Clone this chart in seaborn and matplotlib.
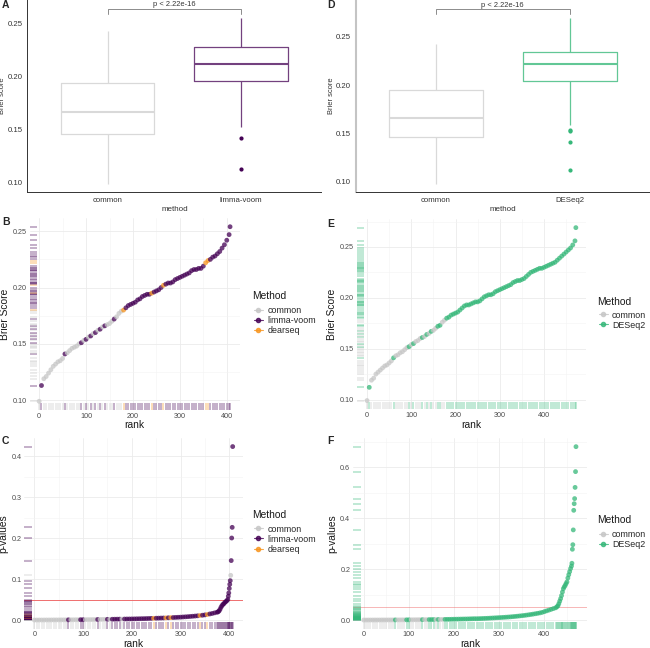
import pandas as pd
import matplotlib
matplotlib.use("Agg")
import matplotlib.pyplot as plt
from matplotlib.lines import Line2D
from matplotlib.ticker import MultipleLocator, FormatStrFormatter
import seaborn as sns

##### DATEN #####
#################

# Boxplots A / D (Brier score je Methode, Werte so gewaehlt, dass Box-Statistik passt)
box_common_a = [0.0984, 0.118, 0.132, 0.145, 0.152, 0.160, 0.1664, 0.172, 0.183, 0.1937, 0.205, 0.222, 0.2425]
box_limma_a = [0.1126, 0.1415, 0.1522, 0.1953, 0.200, 0.206, 0.2116, 0.215, 0.221, 0.2277, 0.234, 0.243, 0.2544]
box_common_d = [0.0983, 0.118, 0.132, 0.1461, 0.153, 0.160, 0.1664, 0.173, 0.184, 0.1946, 0.206, 0.222, 0.2421]
box_deseq_d = [0.1124, 0.1411, 0.1522, 0.1540, 0.1585, 0.2039, 0.207, 0.211, 0.215, 0.219, 0.2221,
               0.225, 0.228, 0.230, 0.232, 0.2345, 0.238, 0.243, 0.249, 0.257, 0.2696]

# Panel B: Brier Score nach Rang (limma-voom)
rank_b = list(range(0, 406, 5)) + [407]
brier_b = [0.099, 0.113, 0.119, 0.121, 0.124, 0.127, 0.130, 0.132, 0.134, 0.135,
           0.137, 0.141, 0.142, 0.144, 0.146, 0.147, 0.148, 0.150, 0.151, 0.153,
           0.154, 0.156, 0.157, 0.159, 0.160, 0.162, 0.163, 0.165, 0.166, 0.167,
           0.168, 0.170, 0.172, 0.174, 0.177, 0.179, 0.180, 0.182, 0.184, 0.185,
           0.186, 0.187, 0.189, 0.190, 0.192, 0.193, 0.194, 0.194, 0.195, 0.196,
           0.197, 0.198, 0.200, 0.202, 0.203, 0.204, 0.204, 0.205, 0.207, 0.208,
           0.209, 0.210, 0.211, 0.212, 0.213, 0.215, 0.216, 0.216, 0.217, 0.217,
           0.219, 0.222, 0.224, 0.225, 0.227, 0.228, 0.230, 0.232, 0.235, 0.238,
           0.242, 0.247, 0.254]
# c = common, l = limma-voom, d = dearseq
method_b = ("cl" "ccccccccc" "l" "cccccc" "lclclclclcl" "ccc" "l" "ccc" "d"
            "lllllllllll" "d" "llll" "d" "lllllllllllllllll" "dd" "llllllllll")

# Panel C: p-Werte nach Rang (limma-voom)
rank_c = list(range(0, 376, 5)) + list(range(377, 396, 2)) + list(range(397, 408))
pval_c = [0.0000, 0.0000, 0.0001, 0.0001, 0.0001, 0.0002, 0.0002, 0.0002, 0.0003, 0.0003,
          0.0003, 0.0004, 0.0004, 0.0005, 0.0005, 0.0006, 0.0006, 0.0007, 0.0007, 0.0008,
          0.0008, 0.0009, 0.0010, 0.0010, 0.0011, 0.0012, 0.0013, 0.0014, 0.0015, 0.0016,
          0.0017, 0.0018, 0.0019, 0.0020, 0.0021, 0.0022, 0.0023, 0.0024, 0.0025, 0.0026,
          0.0027, 0.0028, 0.0030, 0.0031, 0.0033, 0.0034, 0.0036, 0.0038, 0.0040, 0.0042,
          0.0044, 0.0046, 0.0048, 0.0050, 0.0052, 0.0055, 0.0058, 0.0061, 0.0064, 0.0067,
          0.0070, 0.0074, 0.0078, 0.0082, 0.0087, 0.0092, 0.0097, 0.0103, 0.0110, 0.0117,
          0.0125, 0.0135, 0.0148, 0.0160, 0.0175, 0.0190,
          0.020, 0.022, 0.026, 0.031, 0.035, 0.038, 0.040, 0.043, 0.045, 0.047,
          0.050, 0.058, 0.066, 0.077, 0.087, 0.096, 0.109, 0.145, 0.200, 0.226, 0.423]
method_c = ("cccccccccccccc" "l" "cccc" "ll" "ccccc" "l" "ccc" "l" "c" "llll" "c"
            "llllllllllll" "d" "llll" "d" "l" "d" "lllllllllll" "d" "ll" "d" "llll"
            "llllllllll" "llllll" "c" "llll")

# Panel E: Brier Score nach Rang (DESeq2)
rank_e = list(range(0, 471, 5)) + [472]
brier_e = [0.099, 0.112, 0.119, 0.121, 0.125, 0.127, 0.129, 0.131, 0.133, 0.134,
           0.136, 0.138, 0.141, 0.143, 0.144, 0.146, 0.147, 0.149, 0.151, 0.152,
           0.154, 0.155, 0.157, 0.158, 0.160, 0.161, 0.162, 0.164, 0.165, 0.167,
           0.168, 0.170, 0.172, 0.173, 0.176, 0.178, 0.180, 0.181, 0.183, 0.184,
           0.185, 0.186, 0.188, 0.190, 0.192, 0.193, 0.193, 0.194, 0.195, 0.196,
           0.196, 0.197, 0.199, 0.201, 0.202, 0.203, 0.203, 0.204, 0.206, 0.207,
           0.208, 0.209, 0.210, 0.211, 0.212, 0.213, 0.215, 0.216, 0.217, 0.217,
           0.218, 0.219, 0.221, 0.223, 0.225, 0.226, 0.227, 0.228, 0.229, 0.229,
           0.230, 0.231, 0.232, 0.233, 0.234, 0.235, 0.237, 0.239, 0.241, 0.243,
           0.245, 0.247, 0.249, 0.252, 0.256, 0.269]
# c = common, g = DESeq2
method_e = ("cg" "cccccccccc" "g" "cccccc" "gcg" "ccc" "gcgcg" "cc" "gg" "cc" + "g" * 60)

# Panel F: p-Werte nach Rang (DESeq2)
rank_f = list(range(0, 426, 5)) + list(range(428, 459, 2)) + list(range(460, 471))
pval_f = [0.0000, 0.0000, 0.0001, 0.0001, 0.0001, 0.0002, 0.0002, 0.0002, 0.0003, 0.0003,
          0.0003, 0.0004, 0.0004, 0.0005, 0.0005, 0.0006, 0.0006, 0.0007, 0.0007, 0.0008,
          0.0009, 0.0010, 0.0010, 0.0011, 0.0012, 0.0013, 0.0014, 0.0015, 0.0016, 0.0017,
          0.0018, 0.0019, 0.0020, 0.0021, 0.0022, 0.0024, 0.0025, 0.0027, 0.0028, 0.0030,
          0.0032, 0.0034, 0.0036, 0.0038, 0.0040, 0.0042, 0.0044, 0.0047, 0.0050, 0.0053,
          0.0052, 0.0055, 0.0058, 0.0062, 0.0066, 0.0070, 0.0075, 0.0080, 0.0085, 0.0090,
          0.0095, 0.0100, 0.0106, 0.0112, 0.0118, 0.0125, 0.0133, 0.0141, 0.0150, 0.0160,
          0.0170, 0.0180, 0.0192, 0.0205, 0.0218, 0.0232, 0.0247, 0.0263, 0.0280, 0.0300,
          0.033, 0.036, 0.039, 0.042, 0.045, 0.048,
          0.052, 0.056, 0.064, 0.074, 0.084, 0.096, 0.110, 0.123, 0.130, 0.136,
          0.143, 0.150, 0.165, 0.178, 0.190, 0.202,
          0.212, 0.223, 0.278, 0.296, 0.354, 0.431, 0.457, 0.477, 0.521, 0.583, 0.681]
method_f = ("cccccccccccccc" "g" "cccc" "gg" "ccccc" "g" "cc" "ggg" "c" "g" "cc" + "g" * 77)

code_map = {"c": "common", "l": "limma-voom", "d": "dearseq", "g": "DESeq2"}

# Farben
point_col = {"common": "#c6c6c6", "limma-voom": "#440154", "dearseq": "#f7941d", "DESeq2": "#35b779"}
box_line_col = {"common": "#d9d9d9", "limma-voom": "#73417f", "DESeq2": "#62c796"}

##### PLOT #####
################

sns.set_style("white")
plt.rcParams["font.family"] = ["Liberation Sans", "DejaVu Sans"]

fig = plt.figure(figsize=(6.5, 6.48), dpi=100)


def px_rect(x0, y0, x1, y1):
    # Pixelkoordinaten (von oben) -> Figure-Anteile
    return [x0 / 650, (648 - y1) / 648, (x1 - x0) / 650, (y1 - y0) / 648]


def box_panel(rect, common_vals, other_vals, other_name, ylim):
    df = pd.DataFrame({
        "method": ["common"] * len(common_vals) + [other_name] * len(other_vals),
        "score": common_vals + other_vals,
    })
    ax = fig.add_axes(rect)
    fl = point_col[other_name]
    sns.boxplot(data=df, x="method", y="score", hue="method",
                palette={"common": box_line_col["common"], other_name: box_line_col[other_name]},
                fill=False, width=0.7, linewidth=0.9, saturation=1, legend=False,
                showcaps=False, fliersize=2.0,
                flierprops=dict(marker="o", markerfacecolor=fl, markeredgecolor=fl, markersize=2.0),
                medianprops=dict(linewidth=1.5), ax=ax)
    ax.set_xlim(-0.6, 1.6)
    ax.set_ylim(*ylim)
    # Klammer mit p-Wert (wie ggpubr)
    top = max(common_vals + other_vals)
    yb = top + 0.0086
    ax.plot([0, 0, 1, 1], [yb - 0.0046, yb, yb, yb - 0.0046], color="#8c8c8c", lw=0.7, clip_on=False)
    ax.text(0.5, yb + 0.0008, "p < 2.22e-16", ha="center", va="bottom", fontsize=5.4, color="#333333")
    ax.yaxis.set_major_locator(MultipleLocator(0.05))
    ax.yaxis.set_major_formatter(FormatStrFormatter("%.2f"))
    for s in ["top", "right"]:
        ax.spines[s].set_visible(False)
    for s in ["left", "bottom"]:
        ax.spines[s].set_color("#333333")
        ax.spines[s].set_linewidth(0.7)
    ax.tick_params(length=2, width=0.6, labelsize=5.6, colors="#333333", pad=1.5)
    ax.set_xlabel("method", fontsize=5.8, color="#333333", labelpad=1.2)
    ax.set_ylabel("Brier score", fontsize=5.4, color="#333333", labelpad=0.8)
    return ax


def rank_panel(rect, ranks, values, codes, methods, ylabel, ystep, yfmt, hline=None, hline_alpha=1.0):
    df = pd.DataFrame({"rank": ranks, "value": values, "Method": [code_map[c] for c in codes]})
    pal = {m: point_col[m] for m in methods}
    ax = fig.add_axes(rect)
    # Rug-Striche unten und links
    sns.rugplot(data=df, x="rank", hue="Method", palette=pal, height=0.037, alpha=0.4,
                linewidth=1.1, expand_margins=False, legend=False, ax=ax)
    sns.rugplot(data=df, y="value", hue="Method", palette=pal, height=0.034, alpha=0.4,
                linewidth=1.1, expand_margins=False, legend=False, ax=ax)
    if hline is not None:
        ax.axhline(hline, color="#ee5f5f", lw=0.7, alpha=hline_alpha, zorder=1.5)
    sns.scatterplot(data=df, x="rank", y="value", hue="Method", palette=pal, s=12,
                    alpha=0.75, linewidth=0, legend=False, ax=ax, zorder=3)
    # Achsen wie ggplot (5% Erweiterung)
    xr = max(ranks) - min(ranks)
    yr = max(values) - min(values)
    ax.set_xlim(min(ranks) - 0.05 * xr, max(ranks) + 0.05 * xr)
    ax.set_ylim(min(values) - 0.05 * yr, max(values) + 0.05 * yr)
    ax.xaxis.set_major_locator(MultipleLocator(100))
    ax.xaxis.set_minor_locator(MultipleLocator(50))
    ax.yaxis.set_major_locator(MultipleLocator(ystep))
    ax.yaxis.set_minor_locator(MultipleLocator(ystep / 2))
    ax.yaxis.set_major_formatter(FormatStrFormatter(yfmt))
    ax.grid(which="major", color="#ebebeb", lw=0.6)
    ax.grid(which="minor", color="#f3f3f3", lw=0.4)
    ax.set_axisbelow(True)
    for s in ax.spines.values():
        s.set_visible(False)
    ax.tick_params(which="both", length=0, labelsize=5.2, colors="#4d4d4d", pad=2)
    ax.set_xlabel("rank", fontsize=7.4, color="#1a1a1a", labelpad=0.5)
    ax.set_ylabel(ylabel, fontsize=7.4, color="#1a1a1a", labelpad=2)
    return ax


def method_legend(methods, x, y_title, y_first):
    # Titel separat, damit der Abstand zu den Eintraegen wie im Original ist
    fig.text(x / 650, 1 - y_title / 648, "Method", fontsize=7.4, va="center", ha="left", color="#1a1a1a")
    handles = [Line2D([0], [0], color=point_col[m], marker="o", markersize=3, lw=0.8, alpha=0.8)
               for m in methods]
    fig.legend(handles, methods, loc="upper left", bbox_to_anchor=((x + 2) / 650, 1 - (y_first - 5.5) / 648),
               frameon=False, fontsize=6.4, handlelength=1.0, handletextpad=0.5,
               labelspacing=0.12, borderpad=0, borderaxespad=0)


# A und D: Boxplots
box_panel(px_rect(27.3, 0, 321.5, 192.3), box_common_a, box_limma_a, "limma-voom", (0.0903, 0.2717))
axd = box_panel(px_rect(355.6, 0, 650, 192.3), box_common_d, box_deseq_d, "DESeq2", (0.0893, 0.2878))
axd.spines["left"].set_color("#c4c4c4")
axd.spines["left"].set_linewidth(1.5)

# B und C: limma-voom
m3 = ["common", "limma-voom", "dearseq"]
rank_panel(px_rect(29.6, 218, 239.6, 410), rank_b, brier_b, method_b, m3, "Brier Score", 0.05, "%.2f")
rank_panel(px_rect(24.4, 437.9, 242.6, 628.7), rank_c, pval_c, method_c, m3, "p-values", 0.1, "%.1f",
           hline=0.05, hline_alpha=0.9)
method_legend(m3, 252, 296, 311.7)
method_legend(m3, 252, 515, 530)

# E und F: DESeq2
m2 = ["common", "DESeq2"]
rank_panel(px_rect(356.6, 219, 586.3, 409.2), rank_e, brier_e, method_e, m2, "Brier Score", 0.05, "%.2f")
rank_panel(px_rect(353.1, 438, 586.6, 628.7), rank_f, pval_f, method_f, m2, "p-values", 0.2, "%.1f",
           hline=0.05, hline_alpha=0.45)
method_legend(m2, 596.7, 301.7, 316)
method_legend(m2, 596.7, 520, 535.7)

# Panel-Buchstaben
for lab, x, y in [("A", 2, 0), ("B", 2, 217), ("C", 2, 436), ("D", 327, 0), ("E", 327, 219), ("F", 327, 436)]:
    fig.text(x / 650, 1 - y / 648, lab, fontsize=7.5, fontweight="bold", va="top", ha="left")

fig.savefig("out.png", dpi=100)
